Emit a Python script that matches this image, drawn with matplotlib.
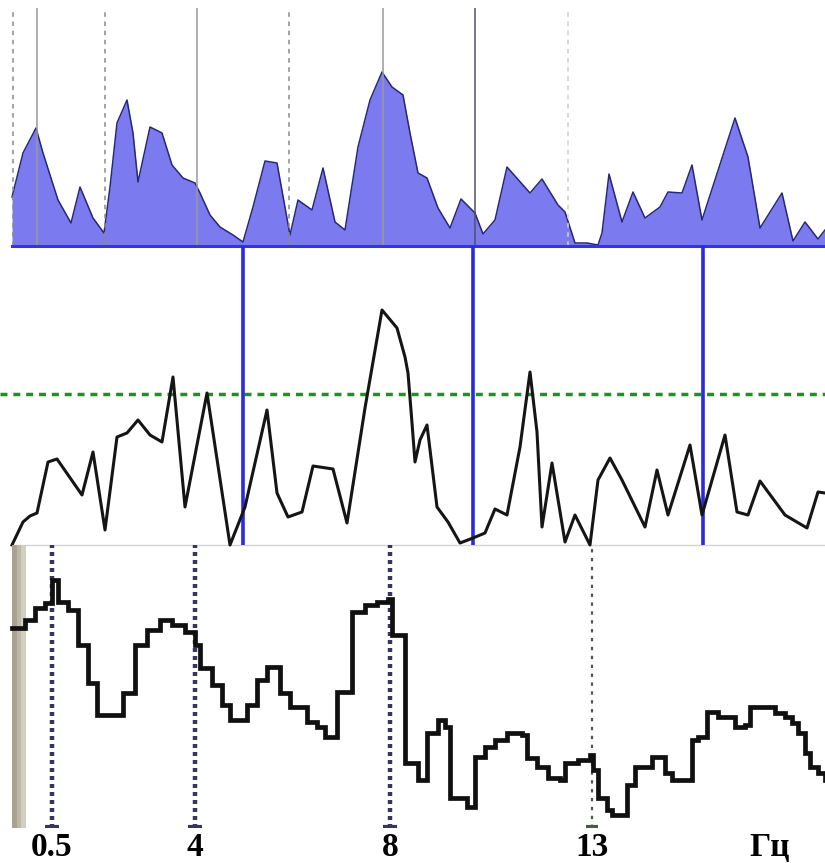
import numpy as np
import matplotlib
matplotlib.use("Agg")
import matplotlib.pyplot as plt

# ---------------- data ----------------
# spectrum (upper panel): bin position, power
spec_x = [12, 23, 36, 43, 58, 71, 80, 93, 104, 110, 117, 127, 133, 138, 150, 162, 172, 183,
          195, 200, 210, 220, 233, 243, 253, 265, 277, 290, 298, 312, 323, 335, 345, 358,
          370, 382, 392, 403, 410, 418, 427, 438, 450, 461, 475, 483, 495, 507, 530, 542,
          558, 565, 575, 587, 598, 602, 609, 622, 633, 645, 660, 668, 682, 692, 702, 735,
          748, 760, 782, 793, 805, 818, 825]
spec_y = [49, 93, 118, 93, 46, 23, 59, 28, 13, 59, 123, 146, 113, 64, 119, 113, 81, 68,
          63, 53, 31, 19, 11, 4, 39, 85, 83, 11, 46, 36, 78, 24, 16, 99,
          146, 174, 159, 151, 113, 73, 68, 38, 18, 47, 33, 12, 26, 79, 53, 67,
          41, 34, 3, 3, 1, 13, 72, 24, 54, 28, 39, 54, 53, 81, 26, 128,
          89, 18, 53, 5, 24, 7, 16]

# coherence-like trace (middle panel)
coh_x = [12, 23, 30, 37, 48, 57, 82, 93, 105, 117, 127, 138, 150, 162, 173, 185, 207, 230,
         245, 267, 277, 288, 302, 313, 333, 347, 365, 382, 397, 405, 408, 412, 415, 420,
         427, 437, 448, 460, 473, 485, 495, 507, 520, 530, 537, 542, 552, 565, 575, 590,
         598, 610, 622, 645, 657, 668, 690, 702, 725, 737, 748, 760, 785, 807, 818, 825]
coh_y = [0, 23, 29, 32, 83, 86, 50, 93, 15, 108, 112, 125, 110, 103, 168, 38, 152, 0,
         38, 135, 52, 28, 33, 79, 76, 22, 137, 235, 217, 188, 172, 122, 83, 105,
         120, 38, 23, 2, 7, 12, 36, 30, 98, 173, 113, 18, 82, 3, 30, 0,
         65, 87, 65, 18, 75, 30, 100, 30, 110, 33, 30, 64, 30, 17, 53, 52]
threshold = 151
markers_mid = [243, 473, 703]

# stepped histogram (lower panel)
step_x = [12, 25, 35, 45, 52, 58, 68, 78, 88, 97, 123, 135, 147, 160, 172, 185, 195, 200,
          212, 222, 230, 247, 257, 267, 280, 290, 307, 317, 325, 337, 352, 365, 377, 388,
          392, 405, 418, 427, 438, 445, 450, 467, 475, 485, 495, 507, 522, 527, 537, 548,
          560, 565, 578, 590, 593, 598, 607, 612, 627, 635, 652, 665, 672, 692, 698, 707,
          718, 735, 745, 750, 775, 785, 792, 798, 805, 810, 818, 825]
step_y = [200, 208, 220, 225, 248, 226, 218, 183, 145, 113, 135, 183, 198, 208, 203, 196, 183, 160,
          143, 123, 108, 123, 148, 161, 135, 121, 106, 101, 91, 136, 216, 223, 226, 229,
          193, 65, 48, 95, 108, 101, 30, 21, 71, 81, 88, 95, 93, 70, 61, 50,
          48, 65, 68, 73, 58, 30, 18, 13, 43, 61, 71, 55, 48, 88, 91, 116,
          111, 101, 103, 121, 115, 111, 105, 95, 75, 61, 55, 48]

band_pos = [52, 195, 390, 592]
tick_pos = [52, 195, 390, 592, 770]
tick_lab = ["0.5", "4", "8", "13", "Гц"]

# ---------------- figure ----------------
W, H = 825, 863
fig = plt.figure(figsize=(W / 100, H / 100), dpi=100)
fig.patch.set_facecolor("white")


def rect(top_px, bot_px):
    return [0, (H - bot_px) / H, 1, (bot_px - top_px) / H]


ax_top = fig.add_axes(rect(8, 246))
ax_mid = fig.add_axes(rect(246, 545))
ax_bot = fig.add_axes(rect(545, 828))

for ax in (ax_top, ax_mid, ax_bot):
    ax.set_xlim(0, W)
    for s in ax.spines.values():
        s.set_visible(False)
    ax.set_yticks([])
    ax.set_facecolor("none")

ax_top.set_ylim(0, 238)
ax_mid.set_ylim(0, 299)
ax_bot.set_ylim(0, 283)

# upper panel: filled spectrum with grid lines
ax_top.fill_between(spec_x, 0, spec_y, color="#7b7bef", lw=0, zorder=1)
ax_top.plot(spec_x, spec_y, color="#26267a", lw=1.1, zorder=2)
for xv in [37, 197, 383]:
    ax_top.axvline(xv, color="#9a9a9a", lw=1.1, zorder=3)
ax_top.axvline(475, color="#50506a", lw=1.1, zorder=3)
for xv in [13, 105, 289]:
    ax_top.axvline(xv, color="#8a8a8a", lw=1.1, ls=(0, (3, 3)), zorder=3)
ax_top.axvline(568, color="#d0d0d0", lw=1.1, ls=(0, (3, 3)), zorder=3)
ax_top.plot([12, W], [0, 0], color="#3434e0", lw=2.2, zorder=4, clip_on=False)
ax_top.set_xticks([])

# middle panel
ax_mid.plot([12, W], [0, 0], color="#d4d4d4", lw=1.0, zorder=1, clip_on=False)
ax_mid.axhline(threshold, color="#2a8a2a", lw=2.5, ls=(0, (2, 1.7)), zorder=2)
for xv in markers_mid:
    ax_mid.axvline(xv, color="#2a2ae2", lw=2.6, zorder=3)
ax_mid.plot(coh_x, coh_y, color="#151515", lw=2.2, zorder=4, clip_on=False)
ax_mid.set_xticks([])

# lower panel
strip_cols = ["#a8a390", "#bdb8a6", "#d2cec0"]
for k, c in enumerate(strip_cols):
    ax_bot.axvspan(12 + k * 4.5, 16.5 + k * 4.5, color=c, lw=0, zorder=0)
for i, xv in enumerate(band_pos):
    if i < 3:
        ax_bot.axvline(xv, color="#35355e", lw=3.2, ls=(0, (0.9, 0.9)), zorder=2)
        ax_bot.plot([xv - 7, xv + 7], [1.5, 1.5], color="#35355e", lw=3, zorder=2,
                    solid_capstyle="butt")
    else:
        ax_bot.axvline(xv, color="#4a5a4a", lw=1.6, ls=(0, (1.5, 2.5)), zorder=2)
        ax_bot.plot([xv - 6, xv + 6], [1.5, 1.5], color="#4a5a4a", lw=3, zorder=2,
                    solid_capstyle="butt")
ax_bot.step(step_x, step_y, where="post", color="#101010", lw=3.4, zorder=4,
            solid_joinstyle="miter")

ax_bot.set_xticks(tick_pos)
ax_bot.set_xticklabels(tick_lab, fontfamily="Liberation Serif", fontweight="bold",
                       fontsize=24)
ax_bot.tick_params(axis="x", length=0, pad=3)

fig.savefig("out.png", dpi=100, facecolor="white")
